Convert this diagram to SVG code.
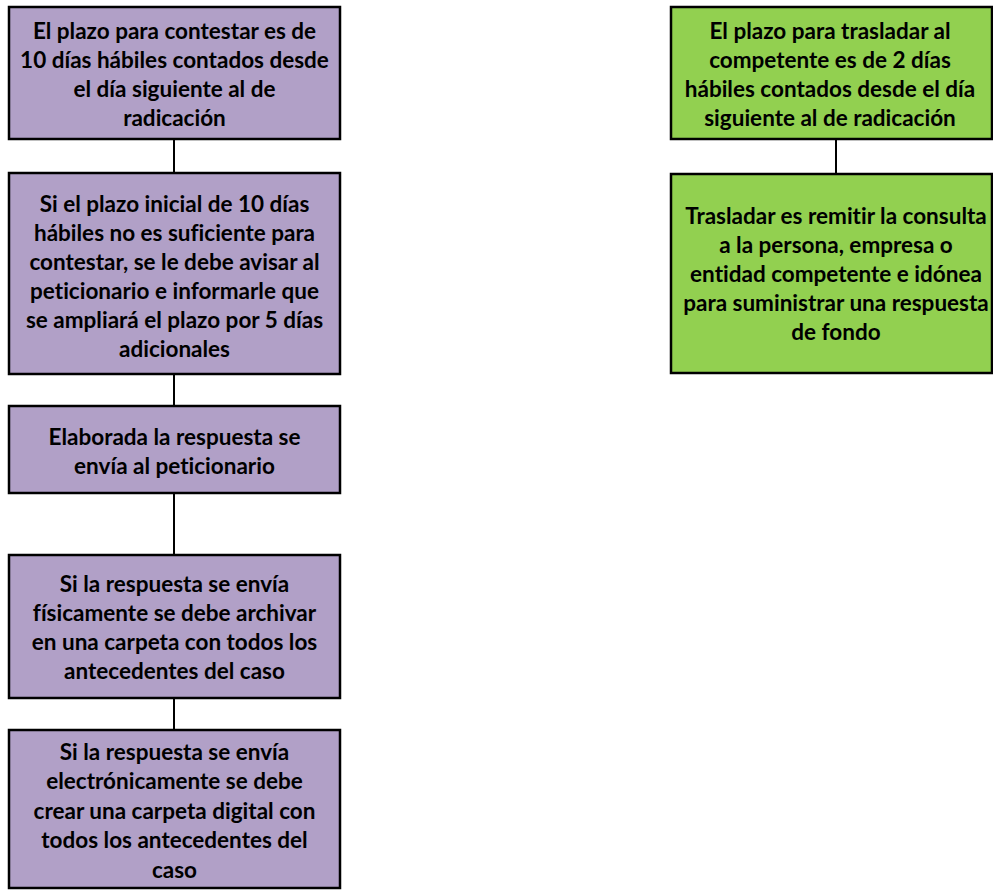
<svg xmlns="http://www.w3.org/2000/svg" width="993" height="890" viewBox="0 0 993 890">
<style>
.p{fill:#B1A0C7;stroke:#000;stroke-width:2.5}
.g{fill:#92D050;stroke:#000;stroke-width:2.5}
.t{font-family:Lato,"Liberation Sans",sans-serif;font-weight:bold;font-size:22.5px;fill:#000;text-anchor:middle;font-variant-ligatures:none;font-feature-settings:"liga" 0,"dlig" 0}
.c{stroke:#000;stroke-width:2;fill:none}
</style>
<rect width="993" height="890" fill="#fff"/>
<g id="connectors">
<line class="c" x1="174" y1="139" x2="174" y2="173"/>
<line class="c" x1="174" y1="374" x2="174" y2="406"/>
<line class="c" x1="174" y1="493" x2="174" y2="555"/>
<line class="c" x1="174" y1="698" x2="174" y2="730"/>
<line class="c" x1="836" y1="139" x2="836" y2="174"/>
</g>
<g id="n1">
<rect class="p" x="9" y="7" width="331" height="132"/>
<text class="t" x="174.5" y="39">El plazo para contestar es de</text>
<text class="t" x="174.5" y="68">10 días hábiles contados desde</text>
<text class="t" x="174.5" y="97">el día siguiente al de</text>
<text class="t" x="174.5" y="126">radicación</text>
</g>
<g id="n2">
<rect class="p" x="9" y="173" width="331" height="201"/>
<text class="t" x="174.5" y="212">Si el plazo inicial de 10 días</text>
<text class="t" x="174.5" y="241">hábiles no es suficiente para</text>
<text class="t" x="174.5" y="270">contestar, se le debe avisar al</text>
<text class="t" x="174.5" y="299">peticionario e informarle que</text>
<text class="t" x="174.5" y="328">se ampliará el plazo por 5 días</text>
<text class="t" x="174.5" y="357">adicionales</text>
</g>
<g id="n3">
<rect class="p" x="9" y="406" width="331" height="87"/>
<text class="t" x="174.5" y="445">Elaborada la respuesta se</text>
<text class="t" x="174.5" y="474">envía al peticionario</text>
</g>
<g id="n4">
<rect class="p" x="9" y="555" width="331" height="143"/>
<text class="t" x="174.5" y="592">Si la respuesta se envía</text>
<text class="t" x="174.5" y="621">físicamente se debe archivar</text>
<text class="t" x="174.5" y="650">en una carpeta con todos los</text>
<text class="t" x="174.5" y="679">antecedentes del caso</text>
</g>
<g id="n5">
<rect class="p" x="9" y="730" width="331" height="158"/>
<text class="t" x="174.5" y="760">Si la respuesta se envía</text>
<text class="t" x="174.5" y="789">electrónicamente se debe</text>
<text class="t" x="174.5" y="819">crear una carpeta digital con</text>
<text class="t" x="174.5" y="848">todos los antecedentes del</text>
<text class="t" x="174.5" y="878">caso</text>
</g>
<g id="g1">
<rect class="g" x="671" y="7" width="321" height="132"/>
<text class="t" x="830" y="39">El plazo para trasladar al</text>
<text class="t" x="830" y="68">competente es de 2 días</text>
<text class="t" x="830" y="97">hábiles contados desde el día</text>
<text class="t" x="830" y="126">siguiente al de radicación</text>
</g>
<g id="g2">
<rect class="g" x="671" y="174" width="321" height="199"/>
<text class="t" x="836" y="224">Trasladar es remitir la consulta</text>
<text class="t" x="836" y="253">a la persona, empresa o</text>
<text class="t" x="836" y="282">entidad competente e idónea</text>
<text class="t" x="836" y="311">para suministrar una respuesta</text>
<text class="t" x="836" y="340">de fondo</text>
</g>
</svg>
